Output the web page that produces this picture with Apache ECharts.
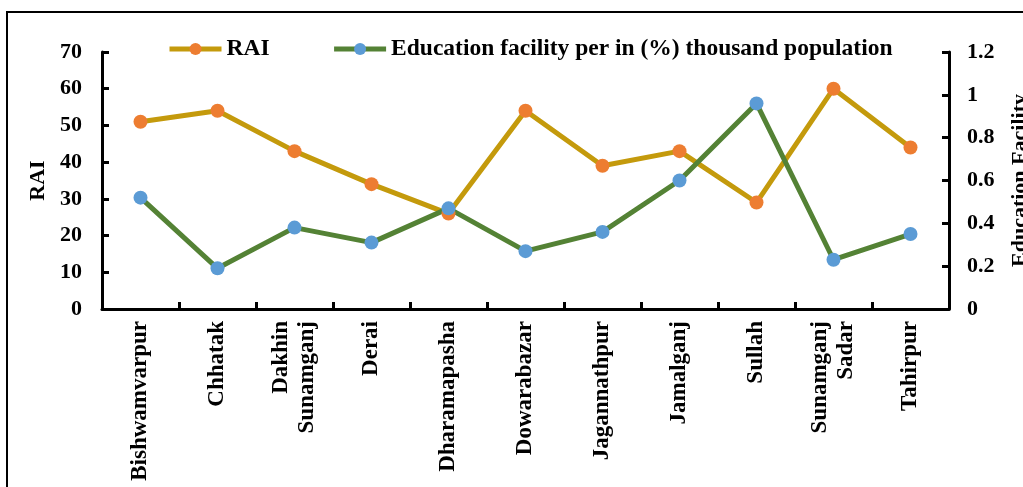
<!DOCTYPE html>
<html>
<head>
<meta charset="utf-8">
<script src="https://cdn.jsdelivr.net/npm/echarts@6/dist/echarts.min.js"></script>
<style>
  html, body { margin: 0; padding: 0; background: #fff; }
  #chart-container { width: 1023px; height: 487px; }
</style>
</head>
<body>
<div id="chart-container"></div>
<script>
var categories = ['Bishwamvarpur', 'Chhatak', 'Dakhin\nSunamganj', 'Derai', 'Dharamapasha',
  'Dowarabazar', 'Jagannathpur', 'Jamalganj', 'Sullah', 'Sunamganj\nSadar', 'Tahirpur'];
var raiValues = [51, 54, 43, 34, 26, 54, 39, 43, 29, 60, 44];
var eduValues = [0.52, 0.19, 0.38, 0.31, 0.47, 0.27, 0.36, 0.60, 0.96, 0.23, 0.35];
var raiTicks = [0, 70, 10];
var eduTicks = [0, 1.2, 0.2];

var chartDom = document.getElementById('chart-container');
var myChart = echarts.init(chartDom);
var font = 'Liberation Serif';

var axisCommon = {
  axisLine: { show: true, lineStyle: { color: '#000', width: 3 } },
  axisTick: { show: true, inside: true, length: 7, lineStyle: { color: '#000', width: 3 } },
  splitLine: { show: false },
  nameLocation: 'middle',
  nameTextStyle: { fontFamily: font, fontWeight: 'bold', fontSize: 22, color: '#000' }
};

var option = {
  animation: false,
  graphic: [{
    type: 'rect',
    shape: { x: 7, y: 12, width: 1030, height: 500 },
    style: { fill: 'none', stroke: '#000', lineWidth: 2 }
  }],
  legend: {
    top: 32,
    left: 162,
    itemWidth: 52,
    itemHeight: 15,
    itemGap: 62,
    lineStyle: { width: 5 },
    textStyle: { fontFamily: font, fontWeight: 'bold', fontSize: 23.5, color: '#000' },
    data: ['RAI', 'Education facility per in (%) thousand population']
  },
  grid: { left: 102, right: 74, top: 52, bottom: 178, outerBoundsMode: 'none', containLabel: false },
  xAxis: {
    type: 'category',
    data: categories,
    boundaryGap: true,
    axisLine: { lineStyle: { color: '#000', width: 3 } },
    axisTick: { show: true, inside: true, length: 7, lineStyle: { color: '#000', width: 3 } },
    axisLabel: {
      rotate: 90, margin: 12, interval: 0,
      fontFamily: font, fontWeight: 'bold', fontSize: 23, color: '#000', lineHeight: 26
    }
  },
  yAxis: [
    Object.assign({}, axisCommon, {
      type: 'value', name: 'RAI', nameGap: 53,
      min: raiTicks[0], max: raiTicks[1], interval: raiTicks[2],
      axisLabel: { margin: 20, fontFamily: font, fontWeight: 'bold', fontSize: 22, color: '#000' }
    }),
    Object.assign({}, axisCommon, {
      type: 'value', name: 'Education Facility', nameGap: 60, position: 'right',
      min: eduTicks[0], max: eduTicks[1], interval: eduTicks[2],
      axisLabel: { margin: 18, fontFamily: font, fontWeight: 'bold', fontSize: 22, color: '#000' }
    })
  ],
  series: [
    {
      name: 'RAI',
      type: 'line',
      yAxisIndex: 0,
      data: raiValues,
      symbol: 'circle',
      symbolSize: 14,
      lineStyle: { color: '#C49A0C', width: 5 },
      itemStyle: { color: '#ED7D31' }
    },
    {
      name: 'Education facility per in (%) thousand population',
      type: 'line',
      yAxisIndex: 1,
      data: eduValues,
      symbol: 'circle',
      symbolSize: 14,
      lineStyle: { color: '#548235', width: 5 },
      itemStyle: { color: '#5B9BD5' }
    }
  ]
};

option && myChart.setOption(option);
</script>
</body>
</html>
